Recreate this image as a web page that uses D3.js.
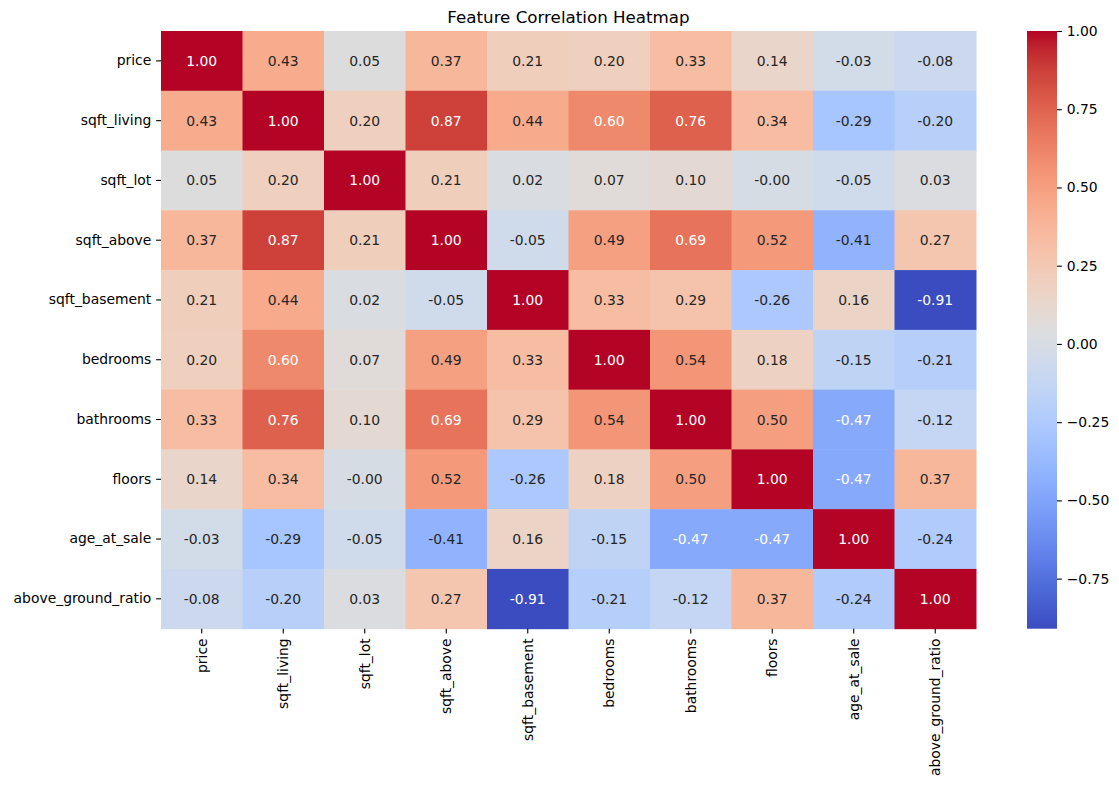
<!DOCTYPE html>
<html><head><meta charset="utf-8">
<script src="https://cdn.jsdelivr.net/npm/d3@7"></script>
<style>body{margin:0;background:#fff}text{font-family:"DejaVu Sans",sans-serif}</style>
</head><body>
<svg id="chart" width="1119" height="790"></svg>
<script>
const features = ["price","sqft_living","sqft_lot","sqft_above","sqft_basement","bedrooms","bathrooms","floors","age_at_sale","above_ground_ratio"];
const corr_price = [1.00, 0.43, 0.05, 0.37, 0.21, 0.20, 0.33, 0.14, -0.03, -0.08];
const corr_sqft_living = [0.43, 1.00, 0.20, 0.87, 0.44, 0.60, 0.76, 0.34, -0.29, -0.20];
const corr_sqft_lot = [0.05, 0.20, 1.00, 0.21, 0.02, 0.07, 0.10, -0.004, -0.05, 0.03];
const corr_sqft_above = [0.37, 0.87, 0.21, 1.00, -0.05, 0.49, 0.69, 0.52, -0.41, 0.27];
const corr_sqft_basement = [0.21, 0.44, 0.02, -0.05, 1.00, 0.33, 0.29, -0.26, 0.16, -0.91];
const corr_bedrooms = [0.20, 0.60, 0.07, 0.49, 0.33, 1.00, 0.54, 0.18, -0.15, -0.21];
const corr_bathrooms = [0.33, 0.76, 0.10, 0.69, 0.29, 0.54, 1.00, 0.50, -0.47, -0.12];
const corr_floors = [0.14, 0.34, -0.004, 0.52, -0.26, 0.18, 0.50, 1.00, -0.47, 0.37];
const corr_age_at_sale = [-0.03, -0.29, -0.05, -0.41, 0.16, -0.15, -0.47, -0.47, 1.00, -0.24];
const corr_above_ground_ratio = [-0.08, -0.20, 0.03, 0.27, -0.91, -0.21, -0.12, 0.37, -0.24, 1.00];
const matrix = [corr_price, corr_sqft_living, corr_sqft_lot, corr_sqft_above, corr_sqft_basement, corr_bedrooms, corr_bathrooms, corr_floors, corr_age_at_sale, corr_above_ground_ratio];
const colorbarTicks = [1.00, 0.75, 0.50, 0.25, 0.00, -0.25, -0.50, -0.75];
const title = "Feature Correlation Heatmap";

// matplotlib coolwarm (33 control points)
const cwR=[0.2298057,0.26623388,0.30386891,0.342804478,0.38301334,0.424369608,0.46666708,0.509635204,0.552953156,0.596262162,0.639176211,0.681291281,0.722193294,0.761464949,0.798691636,0.833466556,0.865395197,0.897787179,0.924127593,0.944468518,0.958852946,0.96732803,0.969954137,0.966811177,0.958003065,0.943660866,0.923944917,0.89904617,0.869186849,0.834620542,0.795631745,0.752534934,0.705673158];
const cwG=[0.298717966,0.353094838,0.406535296,0.458757618,0.50941904,0.558148092,0.604562568,0.648280772,0.688929332,0.726149107,0.759599947,0.788964712,0.813952739,0.834302879,0.849786142,0.860207984,0.86541021,0.848937047,0.827384882,0.800927443,0.769767752,0.734132809,0.694266682,0.650421156,0.602842431,0.551750968,0.49730856,0.439559467,0.378313092,0.312874446,0.24128379,0.157246067,0.01555616];
const cwB=[0.753683153,0.801466763,0.84495867,0.883725899,0.917387822,0.945619588,0.968154911,0.98478814,0.995375608,0.999836203,0.998151185,0.990363227,0.976574709,0.956945269,0.931688648,0.901068838,0.865395561,0.820880546,0.774508472,0.726736146,0.678007945,0.628751763,0.579375448,0.530263762,0.481775914,0.434243684,0.387970225,0.343229596,0.300267182,0.259301199,0.220525627,0.184115123,0.150232812];
function coolwarm(t){
  t=Math.max(0,Math.min(1,t));
  const p=t*32, i=Math.min(31,Math.floor(p)), f=p-i;
  const c=a=>a[i]+(a[i+1]-a[i])*f;
  return [c(cwR),c(cwG),c(cwB)];
}
function rgbStr(c){return `rgb(${Math.round(c[0]*255)},${Math.round(c[1]*255)},${Math.round(c[2]*255)})`;}
function lum(c){
  const lin=v=>v<=0.03928? v/12.92 : Math.pow((v+0.055)/1.055,2.4);
  return 0.2126*lin(c[0])+0.7152*lin(c[1])+0.0722*lin(c[2]);
}

const allVals = matrix.flat();
const vmin = d3.min(allVals), vmax = d3.max(allVals);
const norm = d3.scaleLinear().domain([vmin, vmax]).range([0,1]);

const svg = d3.select("#chart");
const L=161, T=31, W=815, H=597.7;
const x = d3.scaleBand().domain(features).range([L, L+W]);
const y = d3.scaleBand().domain(features).range([T, T+H]);
const fs = 13.9;

const g = svg.append("g");
matrix.forEach((row, ri) => {
  row.forEach((v, ci) => {
    const c = coolwarm(norm(v));
    g.append("rect").attr("x", x(features[ci])).attr("y", y(features[ri]))
      .attr("width", x.bandwidth()+0.5).attr("height", y.bandwidth()+0.5)
      .attr("fill", rgbStr(c));
    g.append("text").attr("x", x(features[ci])+x.bandwidth()/2).attr("y", y(features[ri])+y.bandwidth()/2)
      .attr("text-anchor","middle").attr("dominant-baseline","central")
      .attr("font-size", fs).attr("fill", lum(c) > 0.408 ? "#262626" : "#ffffff")
      .text(v.toFixed(2));
  });
});

// axes
const xAxis = d3.axisBottom(x).tickSize(4.86).tickPadding(4.86);
const xg = svg.append("g").attr("transform",`translate(0,${T+H})`).call(xAxis);
xg.select(".domain").remove();
xg.selectAll(".tick line").attr("stroke","#000").attr("stroke-width",1.1);
xg.selectAll(".tick text").attr("font-size",fs).attr("fill","#000")
  .attr("font-family","DejaVu Sans")
  .attr("transform","rotate(-90)").attr("text-anchor","end")
  .attr("x",-9.7).attr("y",0).attr("dy","0.35em");

const yAxis = d3.axisLeft(y).tickSize(4.86).tickPadding(4.86);
const yg = svg.append("g").attr("transform",`translate(${L},0)`).call(yAxis);
yg.select(".domain").remove();
yg.selectAll(".tick line").attr("stroke","#000").attr("stroke-width",1.1);
yg.selectAll(".tick text").attr("font-size",fs).attr("fill","#000").attr("font-family","DejaVu Sans");

// colorbar
const CBX=1027, CBW=30;
const cy = d3.scaleLinear().domain([vmin, vmax]).range([T+H, T]);
const defs = svg.append("defs");
const grad = defs.append("linearGradient").attr("id","cbgrad").attr("x1",0).attr("y1",1).attr("x2",0).attr("y2",0);
d3.range(0,33).forEach(k=>{
  const t=k/32;
  grad.append("stop").attr("offset",t).attr("stop-color",rgbStr(coolwarm(t)));
});
svg.append("rect").attr("x",CBX).attr("y",T).attr("width",CBW).attr("height",H).attr("fill","url(#cbgrad)");
const cAxis = d3.axisRight(cy).tickValues(colorbarTicks).tickSize(4.86).tickPadding(4.86)
  .tickFormat(d=>d3.format(".2f")(d).replace("-","\u2212"));
const cg = svg.append("g").attr("transform",`translate(${CBX+CBW},0)`).call(cAxis);
cg.select(".domain").remove();
cg.selectAll(".tick line").attr("stroke","#000").attr("stroke-width",1.1);
cg.selectAll(".tick text").attr("font-size",fs).attr("fill","#000").attr("font-family","DejaVu Sans");

svg.append("text").attr("x",L+W/2).attr("y",T-8.5).attr("text-anchor","middle")
  .attr("font-size",16.7).attr("fill","#000").text(title);
</script>
</body></html>
